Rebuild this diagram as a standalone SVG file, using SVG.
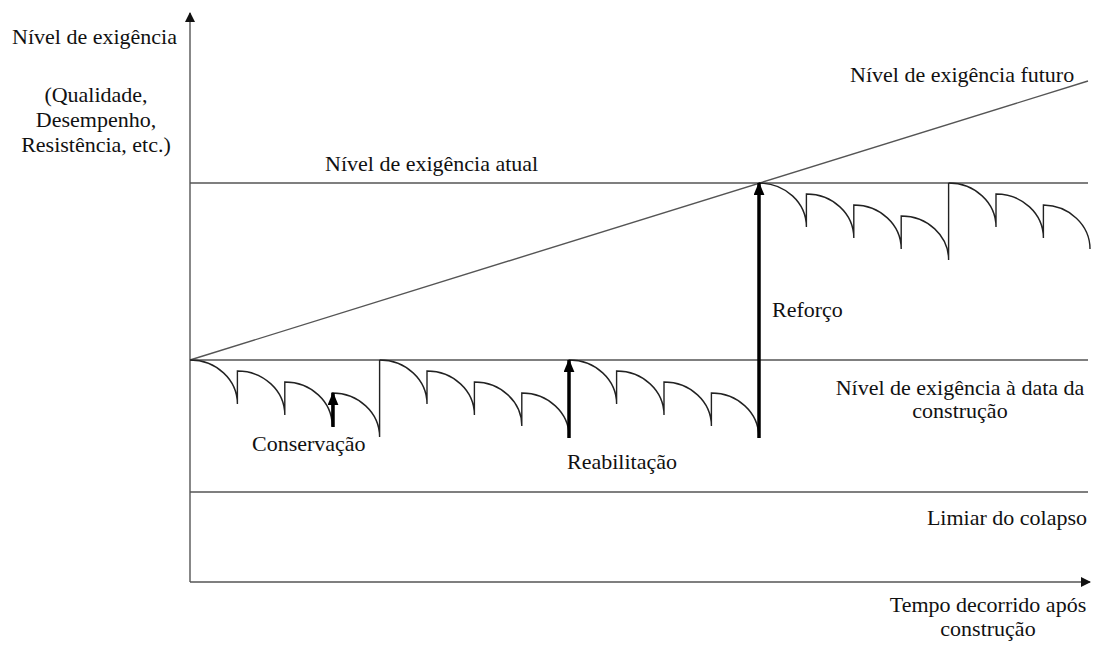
<svg xmlns="http://www.w3.org/2000/svg" width="1093" height="646" viewBox="0 0 1093 646">
  <defs>
    <marker id="axisHead" viewBox="0 0 10 10" refX="9" refY="5" markerWidth="10" markerHeight="10" markerUnits="userSpaceOnUse" orient="auto">
      <path d="M0,0 L10,5 L0,10 Z" fill="#111"/>
    </marker>
    <marker id="boldHead" viewBox="0 0 12 10" refX="11" refY="5" markerWidth="13" markerHeight="11" markerUnits="userSpaceOnUse" orient="auto">
      <path d="M0,0 L12,5 L0,10 Z" fill="#000"/>
    </marker>
  </defs>
  <style>
    .axis { stroke: #555; stroke-width: 1.4; fill: none; }
    .level { stroke: #555; stroke-width: 1.4; fill: none; }
    .decay { stroke: #222; stroke-width: 1.4; fill: none; }
    .action { stroke: #000; stroke-width: 3.5; fill: none; }
    .lbl { font-family: 'Liberation Serif', 'Times New Roman', Times, serif; font-size: 22px; fill: #111; }
  </style>
  <rect width="1093" height="646" fill="#fff"/>

  <g id="axes">
    <line class="axis" x1="190" y1="582" x2="190" y2="13" marker-end="url(#axisHead)"/>
    <line class="axis" x1="190" y1="582" x2="1090" y2="582" marker-end="url(#axisHead)"/>
  </g>

  <g id="levels">
    <line class="level" x1="190" y1="183" x2="1088" y2="183"/>
    <line class="level" x1="190" y1="360" x2="1088" y2="360"/>
    <line class="level" x1="190" y1="492" x2="1088" y2="492"/>
    <line class="level" x1="190" y1="360" x2="1088" y2="81"/>
  </g>

  <g id="connectors">
    <!-- deterioration cycles below the construction-date level -->
    <path class="decay" d="M190,360 A47.4,44 0 0 1 237.4,404 V371 A47.4,44 0 0 1 284.8,415 V382 A47.4,44 0 0 1 332.2,426 V393 A47.4,44 0 0 1 379.6,437 V360"/>
    <path class="decay" d="M379.6,360 A47.4,44 0 0 1 427,404 V371 A47.4,44 0 0 1 474.4,415 V382 A47.4,44 0 0 1 521.8,426 V393 A47.4,44 0 0 1 569.2,437"/>
    <path class="decay" d="M569.2,360 A47.4,44 0 0 1 616.6,404 V371 A47.4,44 0 0 1 664,415 V382 A47.4,44 0 0 1 711.4,426 V393 A47.4,44 0 0 1 758.8,437"/>
    <!-- deterioration cycles below the current level -->
    <path class="decay" d="M759,183 A47.4,44 0 0 1 806.4,227 V194 A47.4,44 0 0 1 853.8,238 V205 A47.4,44 0 0 1 901.2,249 V216 A47.4,44 0 0 1 948.6,260 V183"/>
    <path class="decay" d="M948.6,183 A47.4,44 0 0 1 996,227 V194 A47.4,44 0 0 1 1043.4,238 V205 A47.4,44 0 0 1 1090,249"/>
    <!-- interventions -->
    <line class="action" x1="333" y1="427" x2="333" y2="393" marker-end="url(#boldHead)"/>
    <line class="action" x1="569" y1="438" x2="569" y2="360" marker-end="url(#boldHead)"/>
    <line class="action" x1="759" y1="438" x2="759" y2="183" marker-end="url(#boldHead)"/>
  </g>

  <g class="lbl" font-family="'Liberation Serif', 'Times New Roman', serif" font-size="22">
    <g id="label-y">
      <text x="12" y="44">Nível de exigência</text>
      <text x="96" y="102" text-anchor="middle">(Qualidade,</text>
      <text x="96" y="127" text-anchor="middle">Desempenho,</text>
      <text x="96" y="152" text-anchor="middle">Resistência, etc.)</text>
    </g>
    <g id="label-futuro"><text x="850" y="82">Nível de exigência futuro</text></g>
    <g id="label-atual"><text x="325" y="171">Nível de exigência atual</text></g>
    <g id="label-construcao">
      <text x="960" y="395" text-anchor="middle">Nível de exigência à data da</text>
      <text x="960" y="418" text-anchor="middle">construção</text>
    </g>
    <g id="label-reforco"><text x="772" y="317">Reforço</text></g>
    <g id="label-conservacao"><text x="252" y="451">Conservação</text></g>
    <g id="label-reabilitacao"><text x="567" y="469">Reabilitação</text></g>
    <g id="label-limiar"><text x="1087" y="525" text-anchor="end">Limiar do colapso</text></g>
    <g id="label-x">
      <text x="988" y="612" text-anchor="middle">Tempo decorrido após</text>
      <text x="988" y="636" text-anchor="middle">construção</text>
    </g>
  </g>
</svg>
